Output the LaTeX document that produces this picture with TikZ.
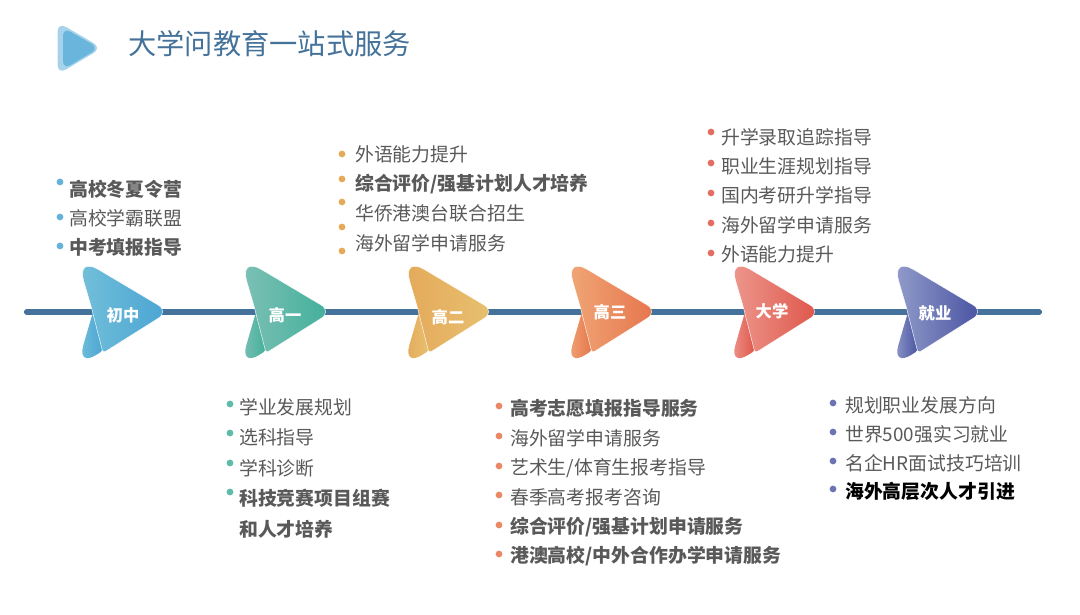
\documentclass[tikz,border=0pt]{standalone}
\usepackage{fontspec}
\setmainfont{Noto Sans CJK SC}
\definecolor{barblue}{HTML}{44729A}
\definecolor{bodygray}{HTML}{595959}
\definecolor{iconout}{HTML}{A6D3EB}
\definecolor{iconin}{HTML}{69B5DC}
\definecolor{aL}{HTML}{74C0DA}\definecolor{aR}{HTML}{49A4D3}
\definecolor{bL}{HTML}{7FC1B6}\definecolor{bR}{HTML}{40AF9A}
\definecolor{cL}{HTML}{E5A95A}\definecolor{cR}{HTML}{E6C170}
\definecolor{dL}{HTML}{F0A878}\definecolor{dR}{HTML}{E6734B}
\definecolor{eL}{HTML}{EE9A90}\definecolor{eR}{HTML}{DE5347}
\definecolor{fL}{HTML}{949FCC}\definecolor{fR}{HTML}{4650A0}
\tikzset{
    item/.style={anchor=west, inner sep=0pt, text=bodygray, font=\fontsize{13.4}{16}\selectfont},
    dot/.style={circle, inner sep=0pt, minimum size=4.8pt},
    grade/.style={inner sep=0pt, text=white, font=\fontsize{11.6}{14}\selectfont\bfseries}
}
\begin{document}
\begin{tikzpicture}[x=0.025cm, y=-0.025cm]
    \useasboundingbox (0, 0) rectangle (1080, 615);

    \fill[iconout, rounded corners=7pt] (57.5, 22) -- (102, 48) -- (57.5, 74.5) -- cycle;
    \fill[iconin, rounded corners=6pt] (63, 27.5) -- (99, 48) -- (63, 69.5) -- cycle;
    \node[anchor=west, inner sep=0pt, text=barblue, font=\fontsize{20.1}{24}\selectfont] (title) at (128, 44) {大学问教育一站式服务};

    \coordinate (barL) at (27, 312);
    \coordinate (barR) at (1039, 312);
    \draw[barblue, line width=4.4pt, line cap=round] (barL) -- (barR);

    \foreach \n/\x/\lx/\ly/\ca/\cb/\lab in {
        a/83/123/315/aL/aR/初中,
        b/246/285/315/bL/bR/高一,
        c/409/448/317/cL/cR/高二,
        d/572/610/312/dL/dR/高三,
        e/735/772/311/eL/eR/大学,
        f/898/935/313/fL/fR/就业} {
        \begin{scope}[shift={(\x, 0)}]
            \shade[left color=\ca, right color=\cb] (10, 312) [rounded corners=16pt] -- (-6, 367) [rounded corners=3pt] -- (21, 350) [sharp corners] -- cycle;
            \shade[left color=\ca, right color=\cb, draw=white, line width=0.3pt] (8, 306) [rounded corners=18pt] -- (-6.5, 256.5) [rounded corners=9pt] -- (86, 311.5) [rounded corners=2pt] -- (20, 353) [sharp corners] -- cycle;
        \end{scope}
        \node[grade] (lab\n) at (\lx, \ly) {\lab};
    }

    \foreach \n/\by/\ty/\t in {
        1/182/189/{\bfseries 高校冬夏令营},
        2/217/218/高校学霸联盟,
        3/246/247/{\bfseries 中考填报指导}} {
        \node[dot, fill=aR!85!white] (ab\n) at (60, \by) {};
        \node[item] (at\n) at (69, \ty) {\t};
    }

    \foreach \n/\by/\ty/\t in {
        1/404/407/学业发展规划,
        2/433/437/选科指导,
        3/463/468/学科诊断,
        4/492/498/{\bfseries 科技竞赛项目组赛},
        5/0/529/{\bfseries 和人才培养}} {
        \ifnum\by>0
            \node[dot, fill=bR!85!white] (bb\n) at (230, \by) {};
        \fi
        \node[item] (bt\n) at (239, \ty) {\t};
    }

    \foreach \n/\by/\ty/\t in {
        1/154/154/外语能力提升,
        2/179/184/{\bfseries 综合评价/强基计划人才培养},
        3/202/213/华侨港澳台联合招生,
        4/227/243/海外留学申请服务} {
        \node[dot, fill=cL] (cb\n) at (342, \by) {};
        \node[item] (ct\n) at (355, \ty) {\t};
    }
    \node[dot, fill=cL] (cb5) at (342, 251) {};

    \foreach \n/\by/\ty/\t in {
        1/406/408/{\bfseries 高考志愿填报指导服务},
        2/436/438/海外留学申请服务,
        3/466/468/{艺术生/体育生报考指导},
        4/495/497/春季高考报考咨询,
        5/525/527/{\bfseries 综合评价/强基计划申请服务},
        6/554/556/{\bfseries 港澳高校/中外合作办学申请服务}} {
        \node[dot, fill=dR!85!white] (db\n) at (499, \by) {};
        \node[item] (dt\n) at (510, \ty) {\t};
    }

    \foreach \n/\by/\ty/\t in {
        1/132/137/升学录取追踪指导,
        2/163/166/职业生涯规划指导,
        3/193/195/国内考研升学指导,
        4/223/225/海外留学申请服务,
        5/253/254/外语能力提升} {
        \node[dot, fill=eR!85!white] (eb\n) at (711, \by) {};
        \node[item] (et\n) at (721, \ty) {\t};
    }

    \foreach \n/\by/\ty/\t in {
        1/403/405/规划职业发展方向,
        2/432/434/世界500强实习就业,
        3/461/463/名企HR面试技巧培训,
        4/489/491/{\color{black}\bfseries 海外高层次人才引进}} {
        \node[dot, fill=fR!80!white] (fb\n) at (833, \by) {};
        \node[item] (ft\n) at (845, \ty) {\t};
    }
\end{tikzpicture}
\end{document}
